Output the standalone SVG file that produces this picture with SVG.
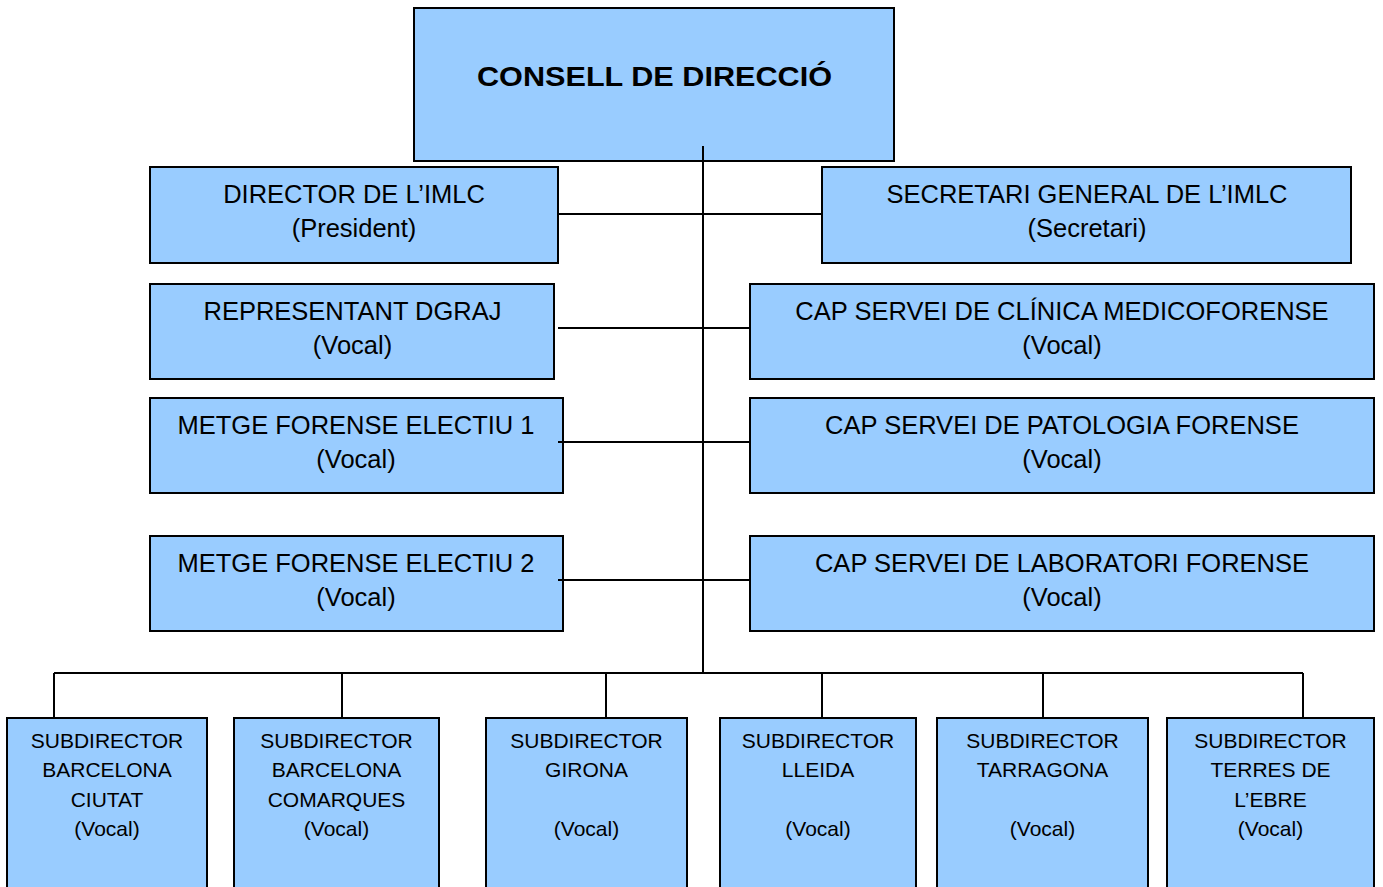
<svg xmlns="http://www.w3.org/2000/svg" width="1383" height="887" viewBox="0 0 1383 887">
<style>
.box{fill:#99CCFF;stroke:#000;stroke-width:2}
.t{font-family:"Liberation Sans",Arial,sans-serif;fill:#000;text-anchor:middle}
.m{font-size:25.5px}
.s{font-size:21px}
.ttl{font-size:27.5px;font-weight:bold}
.c{stroke:#000;stroke-width:2;fill:none}
</style>
<rect width="1383" height="887" fill="#fff"/>
<g id="consell">
<rect class="box" x="414" y="8" width="480" height="153"/>
<text class="t ttl" x="654.5" y="86" textLength="355" lengthAdjust="spacingAndGlyphs">CONSELL DE DIRECCIÓ</text>
</g>
<g id="director">
<rect class="box" x="150" y="167" width="408" height="96"/>
<text class="t m" x="354" y="203">DIRECTOR DE L’IMLC</text>
<text class="t m" x="354" y="237">(President)</text>
</g>
<g id="secretari">
<rect class="box" x="822" y="167" width="529" height="96"/>
<text class="t m" x="1087" y="203">SECRETARI GENERAL DE L’IMLC</text>
<text class="t m" x="1087" y="237">(Secretari)</text>
</g>
<g id="representant">
<rect class="box" x="150" y="284" width="404" height="95"/>
<text class="t m" x="352.5" y="320">REPRESENTANT DGRAJ</text>
<text class="t m" x="352.5" y="354">(Vocal)</text>
</g>
<g id="clinica">
<rect class="box" x="750" y="284" width="624" height="95"/>
<text class="t m" x="1062" y="320">CAP SERVEI DE CLÍNICA MEDICOFORENSE</text>
<text class="t m" x="1062" y="354">(Vocal)</text>
</g>
<g id="metge1">
<rect class="box" x="150" y="398" width="413" height="95"/>
<text class="t m" x="356" y="434">METGE FORENSE ELECTIU 1</text>
<text class="t m" x="356" y="468">(Vocal)</text>
</g>
<g id="patologia">
<rect class="box" x="750" y="398" width="624" height="95"/>
<text class="t m" x="1062" y="434">CAP SERVEI DE PATOLOGIA FORENSE</text>
<text class="t m" x="1062" y="468">(Vocal)</text>
</g>
<g id="metge2">
<rect class="box" x="150" y="536" width="413" height="95"/>
<text class="t m" x="356" y="572">METGE FORENSE ELECTIU 2</text>
<text class="t m" x="356" y="606">(Vocal)</text>
</g>
<g id="laboratori">
<rect class="box" x="750" y="536" width="624" height="95"/>
<text class="t m" x="1062" y="572">CAP SERVEI DE LABORATORI FORENSE</text>
<text class="t m" x="1062" y="606">(Vocal)</text>
</g>
<g id="sub-bcn-ciutat">
<rect class="box" x="7" y="718" width="200" height="190"/>
<text class="t s" x="107" y="748">SUBDIRECTOR</text>
<text class="t s" x="107" y="777">BARCELONA</text>
<text class="t s" x="107" y="807">CIUTAT</text>
<text class="t s" x="107" y="836">(Vocal)</text>
</g>
<g id="sub-bcn-comarques">
<rect class="box" x="234" y="718" width="205" height="190"/>
<text class="t s" x="336.5" y="748">SUBDIRECTOR</text>
<text class="t s" x="336.5" y="777">BARCELONA</text>
<text class="t s" x="336.5" y="807">COMARQUES</text>
<text class="t s" x="336.5" y="836">(Vocal)</text>
</g>
<g id="sub-girona">
<rect class="box" x="486" y="718" width="201" height="190"/>
<text class="t s" x="586.5" y="748">SUBDIRECTOR</text>
<text class="t s" x="586.5" y="777">GIRONA</text>
<text class="t s" x="586.5" y="836">(Vocal)</text>
</g>
<g id="sub-lleida">
<rect class="box" x="720" y="718" width="196" height="190"/>
<text class="t s" x="818" y="748">SUBDIRECTOR</text>
<text class="t s" x="818" y="777">LLEIDA</text>
<text class="t s" x="818" y="836">(Vocal)</text>
</g>
<g id="sub-tarragona">
<rect class="box" x="937" y="718" width="211" height="190"/>
<text class="t s" x="1042.5" y="748">SUBDIRECTOR</text>
<text class="t s" x="1042.5" y="777">TARRAGONA</text>
<text class="t s" x="1042.5" y="836">(Vocal)</text>
</g>
<g id="sub-terres-ebre">
<rect class="box" x="1167" y="718" width="207" height="190"/>
<text class="t s" x="1270.5" y="748">SUBDIRECTOR</text>
<text class="t s" x="1270.5" y="777">TERRES DE</text>
<text class="t s" x="1270.5" y="807">L’EBRE</text>
<text class="t s" x="1270.5" y="836">(Vocal)</text>
</g>
<g id="connectors" class="c">
<line x1="703" y1="146" x2="703" y2="673"/>
<line x1="558" y1="214" x2="822" y2="214"/>
<line x1="558" y1="328" x2="750" y2="328"/>
<line x1="558" y1="442" x2="750" y2="442"/>
<line x1="558" y1="580" x2="750" y2="580"/>
<line x1="54" y1="673" x2="1303" y2="673"/>
<line x1="54" y1="673" x2="54" y2="718"/>
<line x1="342" y1="673" x2="342" y2="718"/>
<line x1="606" y1="673" x2="606" y2="718"/>
<line x1="822" y1="673" x2="822" y2="718"/>
<line x1="1043" y1="673" x2="1043" y2="718"/>
<line x1="1303" y1="673" x2="1303" y2="718"/>
</g>
</svg>
